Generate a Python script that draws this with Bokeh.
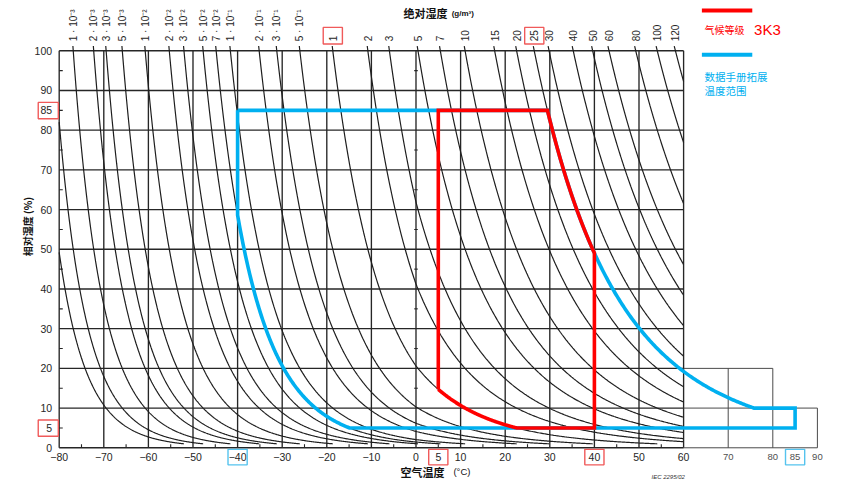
import numpy as np
from bokeh.plotting import figure
from bokeh.models import Range1d
from bokeh.core.properties import value
from bokeh.embed import file_html
from bokeh.resources import INLINE

# ---------------- data ----------------
# absolute humidity isolines (g/m3) and their labels along the top edge
AH_LEVELS = [3e-4, 5e-4, 1e-3, 2e-3, 3e-3, 5e-3, 1e-2, 2e-2, 3e-2, 5e-2, 7e-2,
             1e-1, 2e-1, 3e-1, 5e-1, 1, 2, 3, 5, 7, 10, 15, 20, 25, 30, 40,
             50, 60, 80, 100, 120]
AH_LABELS = ["", "", "1 · 10⁻³", "2 · 10⁻³", "3 · 10⁻³", "5 · 10⁻³",
             "1 · 10⁻²", "2 · 10⁻²", "3 · 10⁻²", "5 · 10⁻²", "7 · 10⁻²",
             "1 · 10⁻¹", "2 · 10⁻¹", "3 · 10⁻¹", "5 · 10⁻¹", "1", "2", "3",
             "5", "7", "10", "15", "20", "25", "30", "40", "50", "60", "80",
             "100", "120"]
AH_MARKED = [1, 25]

TEMP_GRID = [-80, -70, -60, -50, -40, -30, -20, -10, 0, 10, 20, 30, 40, 50, 60]
TEMP_GRID_LABELS = ["−80", "−70", "−60", "−50", "−40", "−30", "−20", "−10",
                    "0", "10", "20", "30", "40", "50", "60"]
TEMP_EXTRA_TICKS = [5]
TEMP_EXTRA_LABELS = ["5"]
TEMP_EXT_TICKS = [70, 80, 85, 90]
TEMP_EXT_LABELS = ["70", "80", "85", "90"]
TEMP_MARKED_3K3 = [5, 40]
TEMP_MARKED_EXT = [-40, 85]

RH_GRID = [0, 10, 20, 30, 40, 50, 60, 70, 80, 90, 100]
RH_GRID_LABELS = ["0", "10", "20", "30", "40", "50", "60", "70", "80", "90", "100"]
RH_EXTRA_TICKS = [5, 85]
RH_EXTRA_LABELS = ["5", "85"]

# climatic class 3K3 limits
K3_TEMP = [5, 40]
K3_RH = [5, 85]
K3_AH = [1, 25]
# extended data-sheet range
EXT_TEMP = [-40, 85]
EXT_RH = [5, 85]
EXT_RH_HOT = 10
EXT_AH = [0.07, 25]

# extension boxes right of the diagram
EXT_BOX_T = [60, 70, 80, 90]
EXT_BOX_RH = [0, 10, 20]

RED = "#FF0000"
BLUE = "#00B0F0"
BOXRED = "#F05A5A"
BOXBLUE = "#55C3EE"
INK = "#262626"
NUM_FONT = value("Liberation Sans")
CJK_FONT = value("Noto Sans CJK SC")

# ---------------- physics helpers ----------------
def ah_sat(t):
    t = np.asarray(t, dtype=float)
    e = np.where(t < 0,
                 6.112 * np.exp(22.46 * t / (272.62 + t)),
                 6.112 * np.exp(17.62 * t / (243.12 + t)))
    return 216.7 * e / (273.15 + t)


def rh_of(ah, t):
    return 100.0 * ah / ah_sat(t)


def t_at(ah, rh):
    lo, hi = -110.0, 130.0
    for _ in range(80):
        mid = 0.5 * (lo + hi)
        if rh_of(ah, mid) > rh:
            lo = mid
        else:
            hi = mid
    return 0.5 * (lo + hi)


def iso(ah, t0, t1, n=200):
    t = np.linspace(t0, t1, n)
    return list(t), list(rh_of(ah, t))


# ---------------- figure ----------------
X_RANGE = (-93.16, 97.87)
Y_RANGE = (-9.50, 112.67)
p = figure(width=852, height=485, x_range=Range1d(*X_RANGE), y_range=Range1d(*Y_RANGE),
           x_axis_type=None, y_axis_type=None, output_backend="svg",
           toolbar_location=None, min_border=0, outline_line_color=None,
           background_fill_color="white", border_fill_color="white")
p.grid.visible = False

t_lo, t_hi = TEMP_GRID[0], TEMP_GRID[-1]
rh_lo, rh_hi = RH_GRID[0], RH_GRID[-1]

# main grid
p.multi_line(xs=[[t, t] for t in TEMP_GRID], ys=[[rh_lo, rh_hi]] * len(TEMP_GRID),
             line_color=INK, line_width=1.35)
p.multi_line(xs=[[t_lo, t_hi]] * len(RH_GRID), ys=[[r, r] for r in RH_GRID],
             line_color=INK, line_width=1.35)

# extension boxes
ext_xs = [[EXT_BOX_T[0], EXT_BOX_T[3]], [EXT_BOX_T[0], EXT_BOX_T[3]], [EXT_BOX_T[0], EXT_BOX_T[2]],
          [EXT_BOX_T[1], EXT_BOX_T[1]], [EXT_BOX_T[2], EXT_BOX_T[2]], [EXT_BOX_T[3], EXT_BOX_T[3]]]
ext_ys = [[EXT_BOX_RH[0]] * 2, [EXT_BOX_RH[1]] * 2, [EXT_BOX_RH[2]] * 2,
          [EXT_BOX_RH[0], EXT_BOX_RH[2]], [EXT_BOX_RH[0], EXT_BOX_RH[2]], [EXT_BOX_RH[0], EXT_BOX_RH[1]]]
p.multi_line(xs=ext_xs, ys=ext_ys, line_color="#4a4a4a", line_width=1.0)

# minor ticks
minor_rh = [r + 5 for r in RH_GRID[:-1]]
minor_t = [t + 5 for t in TEMP_GRID[:-1]]
p.multi_line(xs=[[t_lo, t_lo + 0.8]] * len(minor_rh), ys=[[r, r] for r in minor_rh],
             line_color=INK, line_width=1.1)
p.multi_line(xs=[[-0.4, 0.4]] * len(minor_rh), ys=[[r, r] for r in minor_rh],
             line_color=INK, line_width=1.1)
p.multi_line(xs=[[t, t] for t in minor_t], ys=[[0, 0.9]] * len(minor_t),
             line_color=INK, line_width=1.1)

# absolute humidity isolines
cxs, cys = [], []
top_x, top_t = [], []
for ah, lab in zip(AH_LEVELS, AH_LABELS):
    t0 = max(t_lo, t_at(ah, 101.2))
    t1 = min(t_hi, t_at(ah, 1.0))
    if t1 > t0:
        xx, yy = iso(ah, t0, t1, 300)
        cxs.append(xx)
        cys.append(yy)
    if lab:
        top_x.append(t_at(ah, 100))
        top_t.append(lab)
p.multi_line(xs=cxs, ys=cys, line_color="#1e1e1e", line_width=1.2)

# ---------------- range outlines ----------------
t_a = t_at(K3_AH[1], K3_RH[1])
t_b = t_at(K3_AH[0], K3_RH[0])
rh_c = float(rh_of(K3_AH[0], K3_TEMP[0]))
t_c = t_at(EXT_AH[1], EXT_RH_HOT)
t_d = t_at(EXT_AH[0], EXT_RH[0])

bx1, by1 = iso(EXT_AH[1], t_a, t_c)
bx2, by2 = iso(EXT_AH[0], t_d, EXT_TEMP[0])
blue_x = [EXT_TEMP[0], t_a] + bx1 + [EXT_TEMP[1], EXT_TEMP[1], t_d] + bx2 + [EXT_TEMP[0]]
blue_y = [EXT_RH[1], EXT_RH[1]] + by1 + [EXT_RH_HOT, EXT_RH[0], EXT_RH[0]] + by2 + [EXT_RH[1]]
p.line(blue_x, blue_y, line_color=BLUE, line_width=3.6, line_join="miter")

rx1, ry1 = iso(K3_AH[1], t_a, K3_TEMP[1])
rx2, ry2 = iso(K3_AH[0], t_b, K3_TEMP[0])
red_x = [K3_TEMP[0], K3_TEMP[0], t_a] + rx1 + [K3_TEMP[1], t_b] + rx2
red_y = [rh_c, K3_RH[1], K3_RH[1]] + ry1 + [K3_RH[0], K3_RH[0]] + ry2
p.line(red_x, red_y, line_color=RED, line_width=3.6, line_join="miter")

# ---------------- tick labels ----------------
p.text(x=top_x, y=[102.4] * len(top_x), text=top_t, angle=np.pi / 2,
       text_align="left", text_baseline="middle", text_font=NUM_FONT,
       text_font_size="10px", text_color=INK)

p.text(x=TEMP_GRID + TEMP_EXTRA_TICKS, y=[-2.4] * (len(TEMP_GRID) + 1),
       text=TEMP_GRID_LABELS + TEMP_EXTRA_LABELS, text_align="center",
       text_baseline="middle", text_font=NUM_FONT, text_font_size="10.5px",
       text_color=INK)
p.text(x=TEMP_EXT_TICKS, y=[-2.4] * len(TEMP_EXT_TICKS), text=TEMP_EXT_LABELS,
       text_align="center", text_baseline="middle", text_font=NUM_FONT,
       text_font_size="9.5px", text_color="#505050")

p.text(x=[-81.6] * (len(RH_GRID) + 2), y=RH_GRID + RH_EXTRA_TICKS,
       text=RH_GRID_LABELS + RH_EXTRA_LABELS, text_align="right",
       text_baseline="middle", text_font=NUM_FONT, text_font_size="10.5px",
       text_color=INK)

# highlight boxes around marked values
p.quad(left=[t - 2.15 for t in TEMP_MARKED_3K3], right=[t + 2.15 for t in TEMP_MARKED_3K3],
       top=[-0.4] * 2, bottom=[-4.3] * 2, fill_alpha=0, line_color=BOXRED, line_width=1.4)
p.quad(left=[t - 2.15 for t in TEMP_MARKED_EXT], right=[t + 2.15 for t in TEMP_MARKED_EXT],
       top=[-0.4] * 2, bottom=[-4.3] * 2, fill_alpha=0, line_color=BOXBLUE, line_width=1.4)
p.quad(left=[-84.7] * 2, right=[-80.2] * 2, top=[r + 2.0 for r in K3_RH],
       bottom=[r - 2.1 for r in K3_RH], fill_alpha=0, line_color=BOXRED, line_width=1.4)
mark_x = [t_at(a, 100) for a in AH_MARKED]
p.quad(left=[x - 2.15 for x in mark_x], right=[x + 2.15 for x in mark_x],
       top=[105.9] * 2, bottom=[101.7] * 2, fill_alpha=0, line_color=BOXRED, line_width=1.4)

# ---------------- titles ----------------
p.text(x=[-2.8], y=[109.4], text=["绝对湿度"], text_font=CJK_FONT, text_font_size="11px",
       text_font_style="bold", text_baseline="middle", text_color="#111111")
p.text(x=[8.0], y=[109.3], text=["(g/m³)"], text_font=NUM_FONT, text_font_size="8px",
       text_font_style="bold", text_baseline="middle", text_color="#111111")
p.text(x=[-3.5], y=[-6.15], text=["空气温度"], text_font=CJK_FONT, text_font_size="11px",
       text_font_style="bold", text_baseline="middle", text_color="#111111")
p.text(x=[8.4], y=[-6.0], text=["(°C)"], text_font=NUM_FONT, text_font_size="9.5px",
       text_baseline="middle", text_color="#111111")
p.text(x=[-87.1], y=[56.0], text=["相对湿度  (%)"], angle=np.pi / 2, text_font=CJK_FONT,
       text_font_size="10px", text_font_style="bold", text_align="center",
       text_baseline="middle", text_color="#111111")
p.text(x=[52.8], y=[-7.3], text=["IEC   2295/02"], text_font=NUM_FONT, text_font_size="6px",
       text_font_style="italic", text_baseline="middle", text_color="#333333")

# ---------------- legend ----------------
LEG_X = [64.1, 75.4]
p.line(LEG_X, [110.15, 110.15], line_color=RED, line_width=4)
p.text(x=[64.7], y=[105.4], text=["气候等级"], text_font=CJK_FONT, text_font_size="10px",
       text_baseline="middle", text_color=RED)
p.text(x=[75.8], y=[105.4], text=["3K3"], text_font=NUM_FONT, text_font_size="15px",
       text_baseline="middle", text_color=RED)
p.line(LEG_X, [99.0, 99.0], line_color=BLUE, line_width=4)
p.text(x=[64.7, 64.7], y=[93.5, 90.1], text=["数据手册拓展", "温度范围"], text_font=CJK_FONT,
       text_font_size="10.5px", text_baseline="middle", text_color=BLUE)

open("out.html", "w").write(file_html(p, INLINE))
